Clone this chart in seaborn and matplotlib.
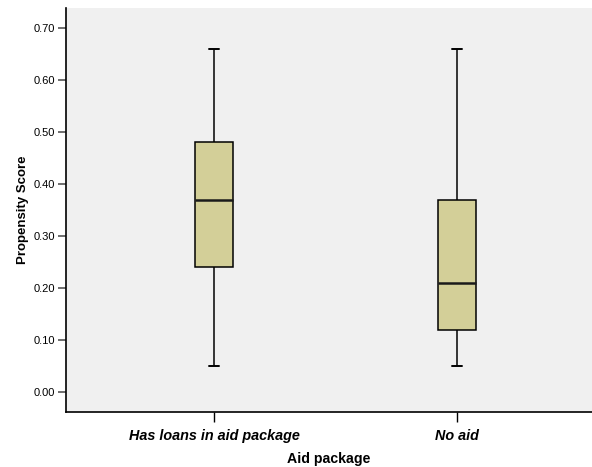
import matplotlib

matplotlib.use("Agg")
import matplotlib.pyplot as plt
import pandas as pd
import seaborn as sns

# five-number summaries (min, Q1, median, Q3, max)
groups = ["Has loans in aid package", "No aid"]
loans_scores = [0.05, 0.24, 0.37, 0.48, 0.66]
noaid_scores = [0.05, 0.12, 0.21, 0.37, 0.66]
y_ticks = [0.0, 0.1, 0.2, 0.3, 0.4, 0.5, 0.6, 0.7]

BOX_COLOR = "#d3cf98"
BG_COLOR = "#f0f0f0"


def main():
    sns.set_theme(style="white")
    plt.rcParams["font.family"] = ["Liberation Sans", "DejaVu Sans"]
    plt.rcParams["text.color"] = "black"
    plt.rcParams["axes.labelcolor"] = "black"
    plt.rcParams["xtick.color"] = "black"
    plt.rcParams["ytick.color"] = "black"

    df = pd.DataFrame(
        {
            "group": [groups[0]] * len(loans_scores) + [groups[1]] * len(noaid_scores),
            "score": loans_scores + noaid_scores,
        }
    )

    fig = plt.figure(figsize=(5.92, 4.67), dpi=100)
    ax = fig.add_axes([66 / 592, 55 / 467, 526 / 592, 404 / 467])
    ax.set_facecolor(BG_COLOR)

    sns.boxplot(
        data=df,
        x="group",
        y="score",
        order=groups,
        color=BOX_COLOR,
        width=0.156,
        whis=1.5,
        showfliers=False,
        linecolor="black",
        linewidth=1.1,
        medianprops={"linewidth": 1.8, "color": "#1a1a1a"},
        saturation=1,
        ax=ax,
    )
    # shorter whisker caps like SPSS
    for line in ax.lines:
        xd = line.get_xdata()
        yd = line.get_ydata()
        if len(xd) == 2 and yd[0] == yd[1] and yd[0] in (0.05, 0.66):
            mid = (xd[0] + xd[1]) / 2
            line.set_xdata([mid - 0.021, mid + 0.021])
            line.set_linewidth(1.4)

    ax.set_xlim(-0.609, 1.556)
    ax.set_ylim(-0.0385, 0.7385)
    ax.set_yticks(y_ticks)
    ax.set_yticklabels([f"{v:.2f}" for v in y_ticks], fontsize=8)
    ax.set_xticks([0, 1])
    ax.set_xticklabels(groups, fontsize=10.4, fontweight="bold", fontstyle="italic")

    for side in ["top", "right"]:
        ax.spines[side].set_visible(False)
    for side in ["left", "bottom"]:
        ax.spines[side].set_color("black")
        ax.spines[side].set_linewidth(1.2)

    ax.tick_params(axis="y", direction="out", length=6, width=1.2, color="#555555", pad=2, left=True)
    ax.tick_params(axis="x", direction="out", length=7, width=1.0, color="black", pad=5, bottom=True)

    ax.set_xlabel("Aid package", fontsize=10.2, fontweight="bold", labelpad=7)
    ax.set_ylabel("Propensity Score", fontsize=9.5, fontweight="bold", labelpad=3)

    fig.savefig("out.png", dpi=100, facecolor="white")
    plt.close(fig)


if __name__ == "__main__":
    main()
